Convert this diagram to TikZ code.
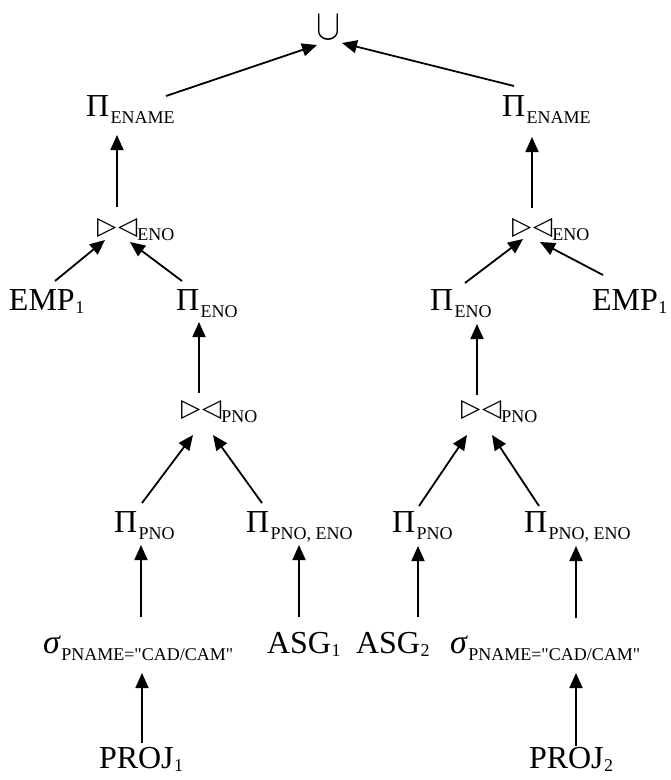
\documentclass[tikz,border=0pt]{standalone}
\usepackage{fontspec}
% plain serif without TeX quote mapping, so " stays straight
\newfontfamily\serif{Liberation Serif}
\newfontfamily\symfont{DejaVu Sans}
\usetikzlibrary{arrows.meta}

% subscript of a word (lowered) and of a digit (slightly lowered)
\newcommand\wsub[1]{\kern1.5pt\raisebox{-7.5pt}{\fontsize{18}{18}\selectfont #1}}
\newcommand\dsub[1]{\kern0.5pt\raisebox{-3pt}{\fontsize{18}{18}\selectfont #1}}
% projection, selection and join operators
\newcommand\proj[1]{Π\wsub{#1}}
\newcommand\sel[1]{{\fontsize{34}{36}\selectfont\itshape σ}\wsub{#1}}
\newcommand\join[1]{\raisebox{6pt}{\symfont\fontsize{25}{25}\selectfont ▷\kern2pt◁}{\fontsize{18}{18}\selectfont #1}}

\begin{document}
\begin{tikzpicture}[x=1pt,y=-1pt,
  lbl/.style={anchor=base west,inner sep=0pt,outer sep=0pt,font=\serif\fontsize{32}{36}\selectfont},
  arr/.style={-{Triangle[length=15pt,width=13pt]},line width=1.8pt}]
\useasboundingbox (0,0) rectangle (671,780);

% root: a thin, tall union sign
\node[inner sep=0pt] (u) at (328.5,27) {\resizebox{24pt}{24pt}{$\cup$}};

% left branch
\node[lbl] (pe1)  at (86,116)  {\proj{ENAME}};
\node[lbl] (j1)   at (97,240)  {\join{ENO}};
\node[lbl] (emp1) at (9,310)   {EMP\dsub{1}};
\node[lbl] (pn1)  at (176,310) {\proj{ENO}};
\node[lbl] (jp1)  at (181,422) {\join{PNO}};
\node[lbl] (pp1)  at (114,532) {\proj{PNO}};
\node[lbl] (ppe1) at (246,532) {\proj{PNO, ENO}};
\node[lbl] (sg1)  at (43,653)  {\sel{PNAME="CAD/CAM"}};
\node[lbl] (asg1) at (267,653) {ASG\dsub{1}};
\node[lbl] (pj1)  at (99,768)  {PROJ\dsub{1}};

% right branch
\node[lbl] (pe2)  at (502,116) {\proj{ENAME}};
\node[lbl] (j2)   at (512,240) {\join{ENO}};
\node[lbl] (pn2)  at (430,310) {\proj{ENO}};
\node[lbl] (emp2) at (592,310) {EMP\dsub{1}};
\node[lbl] (jp2)  at (461,422) {\join{PNO}};
\node[lbl] (pp2)  at (392,532) {\proj{PNO}};
\node[lbl] (ppe2) at (524,532) {\proj{PNO, ENO}};
\node[lbl] (asg2) at (356,653) {ASG\dsub{2}};
\node[lbl] (sg2)  at (450,653) {\sel{PNAME="CAD/CAM"}};
\node[lbl] (pj2)  at (529,768) {PROJ\dsub{2}};

% connectors, child to parent
\draw[arr] ([shift={(80,-20)}]pe1.base west) -- ([shift={(-11.5,18)}]u.center);
\draw[arr] ([shift={(12,-30)}]pe2.base west) -- ([shift={(13.5,16)}]u.center);

\draw[arr] ([shift={(20,-33)}]j1.base west) -- ([shift={(31,19)}]pe1.base west);
\draw[arr] ([shift={(20,-32)}]j2.base west) -- ([shift={(30,21)}]pe2.base west);

\draw[arr] ([shift={(46,-29)}]emp1.base west) -- ([shift={(8,0)}]j1.base west);
\draw[arr] ([shift={(6,-29)}]pn1.base west) -- ([shift={(33,2)}]j1.base west);
\draw[arr] ([shift={(35,-27)}]pn2.base west) -- ([shift={(11,-1)}]j2.base west);
\draw[arr] ([shift={(11,-35)}]emp2.base west) -- ([shift={(28,2)}]j2.base west);

\draw[arr] ([shift={(18,-29)}]jp1.base west) -- ([shift={(23,12)}]pn1.base west);
\draw[arr] ([shift={(16,-27)}]jp2.base west) -- ([shift={(47,14)}]pn2.base west);

\draw[arr] ([shift={(28,-29)}]pp1.base west) -- ([shift={(12,13)}]jp1.base west);
\draw[arr] ([shift={(16,-29)}]ppe1.base west) -- ([shift={(32,13)}]jp1.base west);
\draw[arr] ([shift={(27,-26)}]pp2.base west) -- ([shift={(6,13)}]jp2.base west);
\draw[arr] ([shift={(15,-26)}]ppe2.base west) -- ([shift={(31,13)}]jp2.base west);

\draw[arr] ([shift={(98,-36)}]sg1.base west) -- ([shift={(27,13)}]pp1.base west);
\draw[arr] ([shift={(32,-36)}]asg1.base west) -- ([shift={(53,13)}]ppe1.base west);
\draw[arr] ([shift={(62,-36)}]asg2.base west) -- ([shift={(26,14)}]pp2.base west);
\draw[arr] ([shift={(126,-35)}]sg2.base west) -- ([shift={(52,14)}]ppe2.base west);

\draw[arr] ([shift={(43,-25)}]pj1.base west) -- ([shift={(99,20)}]sg1.base west);
\draw[arr] ([shift={(47,-22)}]pj2.base west) -- ([shift={(126,20)}]sg2.base west);
\end{tikzpicture}
\end{document}
